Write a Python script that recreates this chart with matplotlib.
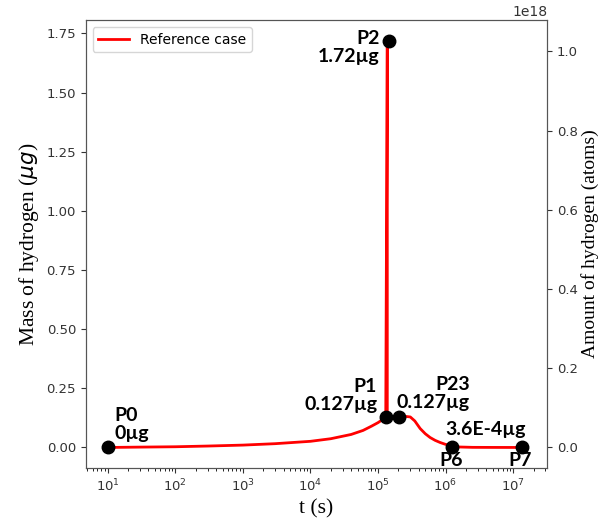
import matplotlib
matplotlib.use("Agg")
import matplotlib.pyplot as plt
from matplotlib.ticker import NullFormatter

# curve data (time in s, mass in µg)
t_curve = [10, 30, 100, 300, 1e3, 3e3, 1e4, 2e4, 4e4, 6e4, 8e4, 1e5, 1.3e5, 1.37e5, 1.37e5,
           2.05e5, 2.6e5, 3.0e5, 3.5e5, 4.2e5, 5e5, 5.9e5, 7e5, 8.3e5, 1.0e6, 1.26e6, 1.6e6,
           2.5e6, 5e6, 1.35e7]
m_curve = [0, 0.0015, 0.003, 0.006, 0.010, 0.016, 0.026, 0.037, 0.055, 0.072, 0.09, 0.105, 0.127,
           1.72, 0.127, 0.127, 0.131, 0.129, 0.112, 0.080, 0.058, 0.042, 0.030, 0.021, 0.013,
           0.007, 0.002, 0.0005, 0.0002, 0.0]

# key points
pt_names = ["P0", "P1", "P2", "P23", "P6", "P7"]
pt_t = [10, 1.3e5, 1.45e5, 2.05e5, 1.26e6, 1.35e7]
pt_m = [0, 0.127, 1.72, 0.127, 0.00036, 0.0]

ATOMS_PER_UG = 1e-6 / 1.008 * 6.022e23

fig = plt.figure(figsize=(6.04, 5.31), dpi=100)
ax = fig.add_axes([0.142, 0.119, 0.764, 0.843])
ax.plot(t_curve, m_curve, color="red", lw=2, label="Reference case")
ax.plot(pt_t, pt_m, "o", color="black", ms=9)
ax.set_xscale("log")
ax.set_xlim(10 ** 0.674, 10 ** 7.504)
ax.xaxis.set_minor_formatter(NullFormatter())
ax.legend(loc="upper left", handlelength=2.2)
ax.set_xlabel("t (s)", family="Liberation Serif", fontsize=15.5)
ax.set_ylabel(r"Mass of hydrogen ($\mu g$)", family="Liberation Serif", fontsize=15.5)

ax2 = ax.twinx()
y0, y1 = ax.get_ylim()
ax2.set_ylim(y0 * ATOMS_PER_UG, y1 * ATOMS_PER_UG)
ax2.set_ylabel("Amount of hydrogen (atoms)", family="Liberation Serif", fontsize=14, labelpad=2)

for a in (ax, ax2):
    a.tick_params(colors="#333333", labelsize=9.5)
    for s in a.spines.values():
        s.set_color("#555555")

fk = dict(family="Lato", fontweight="bold", fontsize=14, color="black", linespacing=1.05)
ax.text(12.5, 0.025, "P0\n0µg", ha="left", va="bottom", **fk)
ax.text(0.97e5, 0.145, "P1\n0.127µg", ha="right", va="bottom", multialignment="right", **fk)
ax.text(1.05e5, 1.765, "P2\n1.72µg", ha="right", va="top", multialignment="right", **fk)
ax.text(2.3e6, 0.156, "P23\n0.127µg", ha="right", va="bottom", multialignment="right", **fk)
ax.text(0.98e6, 0.04, "3.6E-4µg", ha="left", va="bottom", **fk)
ax.text(1.2e6, -0.018, "P6", ha="center", va="top", **fk)
ax.text(1.25e7, -0.018, "P7", ha="center", va="top", **fk)

fig.savefig("out.png", dpi=100)
